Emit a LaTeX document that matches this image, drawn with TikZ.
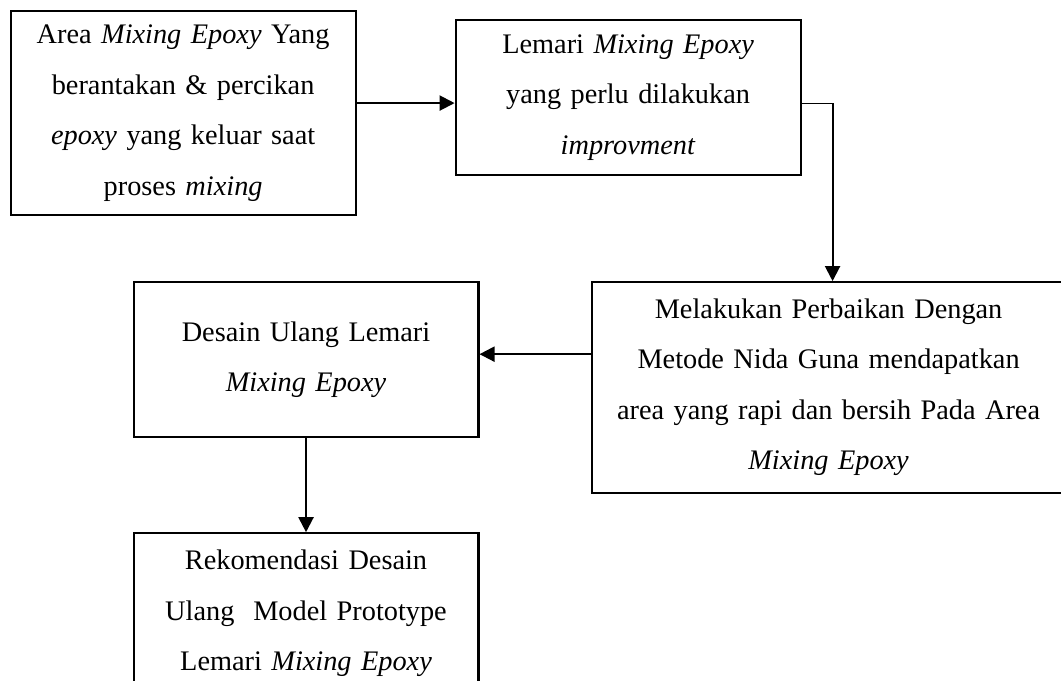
\documentclass[tikz,border=0pt]{standalone}
\usepackage{fontspec}
\setmainfont{Liberation Serif}
\usetikzlibrary{positioning,arrows.meta}

\begin{document}
\begin{tikzpicture}[
  mybox/.style={
    draw,
    line width=1.1pt,
    rectangle,
    minimum width=182.7pt,
    minimum height=82.1pt,
    text width=176pt,
    align=center,
    inner sep=0pt,
    font=\fontsize{15}{26.7}\selectfont
    },
  myarrow/.style={
    line width=1.1pt,
    -{Triangle[length=8pt,width=8pt]}
    }
]

\useasboundingbox (-5.1pt,5.3pt) rectangle (556.9pt,-354.9pt);
\clip (-5.1pt,5.3pt) rectangle (556.9pt,-354.9pt);

\node[mybox, minimum height=108.1pt, anchor=north west] (area) at (0,0)
  {Area \textit{Mixing Epoxy} Yang\\
   berantakan \& percikan\\
   \textit{epoxy} yang keluar saat\\
   proses \textit{mixing}};

\node[mybox, below right=4.8pt and 51.9pt of area.north east] (lemari)
  {Lemari \textit{Mixing Epoxy}\\
   yang perlu dilakukan\\
   \textit{improvment}};

\node[mybox, minimum width=251.1pt, minimum height=111.5pt, text width=245pt, below right=55.6pt and 72pt of lemari.south west] (perbaikan)
  {Melakukan Perbaikan Dengan\\
   Metode Nida Guna mendapatkan\\
   area yang rapi dan bersih Pada Area\\
   \textit{Mixing Epoxy}};

\node[mybox, below left=0pt and 58.8pt of perbaikan.north west] (desain)
  {Desain Ulang Lemari\\
   \textit{Mixing Epoxy}};

\node[mybox, minimum height=84.8pt, below=49.8pt of desain] (rekomendasi)
  {Rekomendasi Desain\\
   Ulang\ \ Model Prototype\\
   Lemari \textit{Mixing Epoxy}};

\coordinate (lemarikiri) at ([yshift=-2.9pt]lemari.west);
\coordinate (lemarikanan) at ([yshift=-2.9pt]lemari.east);
\coordinate (masuk) at ([xshift=128.2pt]perbaikan.north west);
\coordinate (belok) at (lemarikanan -| masuk);
\coordinate (desainkanan) at ([yshift=2.9pt]desain.east);

\draw[myarrow] (area.east |- lemarikiri) -- (lemarikiri);
\draw[line width=0.6pt] (lemarikanan) -- (belok);
\draw[myarrow] (belok) -- (masuk);
\draw[myarrow] (perbaikan.west |- desainkanan) -- (desainkanan);
\draw[myarrow] (desain) -- (rekomendasi);
\end{tikzpicture}
\end{document}
